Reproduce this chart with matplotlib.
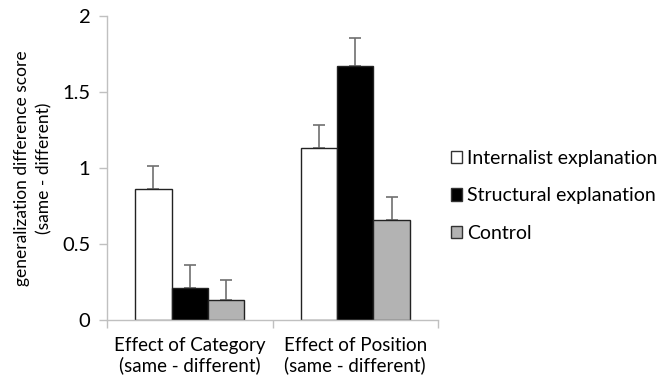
import matplotlib
matplotlib.use("Agg")
import matplotlib.pyplot as plt
import numpy as np

plt.rcParams["font.family"] = ["Lato", "DejaVu Sans"]

groups = ["Effect of Category\n(same - different)", "Effect of Position\n(same - different)"]
series = ["Internalist explanation", "Structural explanation", "Control"]
means = {
    "Internalist explanation": [0.86, 1.13],
    "Structural explanation": [0.21, 1.67],
    "Control": [0.13, 0.66],
}
errors = {
    "Internalist explanation": [0.15, 0.15],
    "Structural explanation": [0.15, 0.185],
    "Control": [0.13, 0.15],
}
colors = ["white", "black", "#b3b3b3"]

fig = plt.figure(figsize=(6.66, 3.84), dpi=100)
ax = fig.add_axes([0.1607, 0.1667, 0.497, 0.7916])

x = np.arange(len(groups))
width = 0.22
for i, (name, color) in enumerate(zip(series, colors)):
    pos = x + (i - 1) * width
    ax.bar(pos, means[name], width, color=color, edgecolor="#222222",
           linewidth=1.0, label=name, zorder=2)
    ax.errorbar(pos, means[name], yerr=[np.zeros(len(groups)), errors[name]],
                fmt="none", ecolor="#707070", elinewidth=1.2, capsize=4,
                capthick=1.2, zorder=1)

ax.set_xlim(-0.5, 1.5)
ax.set_ylim(0, 2)
ax.set_yticks([0, 0.5, 1, 1.5, 2])
ax.set_yticklabels(["0", "0.5", "1", "1.5", "2"])
ax.set_xticks([-0.5, 0.5, 1.5])
ax.set_xticklabels([])
ax.set_xticks(x, minor=True)
ax.set_xticklabels(groups, minor=True)
ax.tick_params(axis="x", which="minor", length=0, pad=12, labelsize=13.5)
ax.tick_params(axis="x", which="major", length=6, color="#c0c0c0", width=1)
ax.tick_params(axis="y", length=6, color="#c0c0c0", width=1, labelsize=14.5, pad=6)

for side in ["top", "right"]:
    ax.spines[side].set_visible(False)
for side in ["left", "bottom"]:
    ax.spines[side].set_color("#c0c0c0")
    ax.spines[side].set_linewidth(1)

ax.set_ylabel("generalization difference score\n(same - different)", fontsize=12.5,
              labelpad=7, linespacing=1.45)

leg = ax.legend(loc="center left", bbox_to_anchor=(441 / 666, 1 - 196 / 384),
                bbox_transform=fig.transFigure, frameon=False, fontsize=14,
                handlelength=0.6, handleheight=0.6, handletextpad=0.25,
                labelspacing=1.05, borderpad=0)
for patch in leg.get_patches():
    patch.set_edgecolor("#333333")

fig.savefig("out.png", dpi=100)
